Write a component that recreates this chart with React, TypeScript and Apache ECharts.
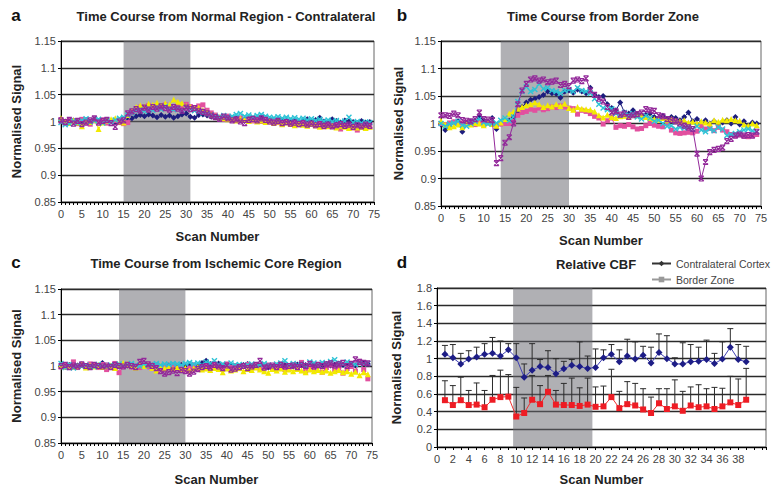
import React, { useEffect, useRef } from 'react';
import * as echarts from 'echarts';

// ---------- Panel a: Time Course from Normal Region - Contralateral (scan 0..74)
const aNavy = [
  1.004, 1.0, 0.998, 1.002, 0.999, 0.997, 1.003, 1.0, 1.004, 1.001, 0.999, 1.002, 1.0, 0.998, 1.001, 0.999,
  1.003, 1.006, 1.01, 1.012, 1.01, 1.013, 1.011, 1.008, 1.012, 1.009, 1.011, 1.007, 1.01, 1.013, 1.015, 1.009, 1.007, 1.012, 1.013, 1.011,
  1.009, 1.008, 1.006, 1.005, 1.007, 1.004, 1.006, 1.003, 1.005, 1.006, 1.004, 1.005, 1.007, 1.004, 1.003, 1.002, 1.004, 1.003, 1.001, 1.002,
  1.003, 1.0, 1.002, 1.004, 1.001, 1.003, 1.007, 1.0, 0.999, 1.004, 1.001, 0.998, 1.002, 1.0, 0.999, 0.997, 1.001, 0.998, 0.999,
];
const aPink = [
  1.003, 0.997, 1.002, 1.0, 0.996, 1.004, 0.998, 0.995, 1.001, 0.999, 1.003, 0.997, 1.0, 1.002, 0.998, 0.996,
  0.998, 1.018, 1.022, 1.027, 1.025, 1.03, 1.024, 1.029, 1.026, 1.031, 1.027, 1.023, 1.029, 1.025, 1.032, 1.028, 1.026, 1.029, 1.031, 1.021,
  1.016, 1.012, 1.008, 1.004, 1.01, 1.006, 1.003, 1.007, 1.002, 1.005, 1.001, 1.004, 1.0, 1.003, 0.999, 1.002, 0.998, 0.996, 1.0, 0.995,
  0.998, 0.994, 0.997, 0.993, 0.996, 0.992, 0.995, 0.99, 0.994, 0.991, 0.993, 0.986, 0.992, 0.99, 0.988, 0.984, 0.991, 0.989, 0.99,
];
const aYellow = [
  1.006, 1.0, 0.997, 1.002, 0.998, 0.991, 1.001, 0.999, 1.003, 0.986, 0.998, 1.002, 1.004, 1.006, 1.0, 0.998,
  1.012, 1.02, 1.027, 1.03, 1.028, 1.033, 1.031, 1.035, 1.03, 1.034, 1.031, 1.041, 1.037, 1.034, 1.029, 1.027, 1.024, 1.026, 1.021, 1.017,
  1.013, 1.01, 1.008, 1.006, 1.004, 1.007, 1.002, 1.005, 1.003, 1.001, 1.004, 1.0, 1.002, 0.999, 1.001, 0.997, 1.0, 0.995, 0.998, 0.996,
  0.993, 0.997, 0.994, 0.992, 0.996, 0.993, 0.99, 0.994, 0.991, 0.993, 0.989, 0.992, 0.99, 0.988, 0.991, 0.989, 0.99, 0.988, 0.99,
];
const aCyan = [
  0.998, 0.994, 0.996, 1.001, 0.997, 1.002, 1.005, 0.999, 1.001, 1.004, 0.997, 1.002, 0.999, 1.003, 1.006, 1.008,
  1.012, 1.016, 1.02, 1.022, 1.019, 1.024, 1.021, 1.026, 1.023, 1.028, 1.024, 1.022, 1.025, 1.021, 1.026, 1.023, 1.02, 1.018, 1.016, 1.014,
  1.012, 1.01, 1.009, 1.011, 1.008, 1.01, 1.013, 1.015, 1.01, 1.012, 1.009, 1.011, 1.013, 1.01, 1.008, 1.007, 1.009, 1.006, 1.008, 1.005,
  1.007, 1.004, 1.006, 1.003, 1.005, 1.002, 1.004, 1.001, 1.003, 1.0, 1.002, 0.999, 1.001, 1.008, 0.998, 1.0, 0.997, 0.999, 0.998,
];
const aPurple = [
  1.002, 0.999, 1.003, 0.996, 1.001, 0.995, 0.998, 1.002, 1.006, 0.998, 1.001, 1.003, 0.997, 0.99, 1.0, 1.002,
  1.015, 1.019, 1.023, 1.02, 1.026, 1.022, 1.027, 1.024, 1.028, 1.025, 1.022, 1.027, 1.024, 1.02, 1.026, 1.023, 1.025, 1.02, 1.018, 1.015,
  1.011, 1.008, 1.005, 1.009, 1.006, 1.002, 1.004, 1.0, 0.997, 1.003, 1.005, 1.002, 1.006, 1.003, 1.0, 0.998, 1.001, 0.997, 0.999, 0.996,
  0.998, 0.995, 0.997, 0.994, 0.996, 0.993, 0.995, 0.992, 0.994, 0.991, 0.993, 0.995, 0.992, 0.994, 0.99, 0.993, 0.991, 0.994, 0.992,
];

// ---------- Panel b: Time Course from Border Zone
const bNavy = [
  0.998, 0.988, 0.995, 1.002, 1.004, 0.985, 1.0, 1.003, 1.005, 1.012, 1.006, 1.003, 1.01, 0.99, 1.0, 1.001,
  1.005, 1.012, 1.022, 1.03, 1.038, 1.043, 1.045, 1.048, 1.052, 1.058, 1.055, 1.054, 1.047, 1.058, 1.06, 1.056, 1.062, 1.058, 1.055, 1.065,
  1.052, 1.048, 1.05, 1.035, 1.028, 1.024, 1.038, 1.02, 1.018, 1.024, 1.017, 1.014, 1.016, 1.018, 1.012, 1.01, 1.014, 1.008, 1.012, 1.01,
  1.006, 1.012, 1.02, 1.004, 1.008, 1.002, 1.006, 1.0, 1.004, 0.998, 1.002, 1.006, 1.0, 1.012, 0.998, 1.004, 0.996, 1.002, 1.0,
];
const bPink = [
  1.0, 0.998, 1.001, 1.003, 0.999, 1.001, 1.002, 1.0, 0.998, 1.002, 0.999, 1.001, 1.0, 0.998, 0.999, 1.0,
  1.0, 1.004, 1.015, 1.02, 1.022, 1.026, 1.024, 1.028, 1.025, 1.027, 1.03, 1.029, 1.032, 1.03, 1.028, 1.027, 1.017, 1.024, 1.022, 1.018,
  1.013, 1.01, 0.999, 1.005, 1.01, 0.993, 0.996, 0.995, 0.998, 0.994, 0.99, 0.991, 0.996, 1.0, 0.997, 0.995, 0.994, 1.0, 0.988, 0.983,
  0.982, 0.983, 0.984, 0.983, 0.986, 0.995, 0.99, 0.991, 0.987, 0.993, 0.988, 0.985, 0.98, 0.978, 0.98, 0.977, 0.976, 0.978, 0.98,
];
const bYellow = [
  1.005, 0.998, 0.993, 0.995, 0.998, 0.993, 1.0, 0.998, 1.001, 1.0, 0.997, 1.002, 0.999, 0.996, 1.002, 1.008,
  1.018, 1.022, 1.027, 1.03, 1.033, 1.035, 1.038, 1.035, 1.03, 1.033, 1.031, 1.035, 1.032, 1.036, 1.028, 1.025, 1.03, 1.027, 1.026, 1.025,
  1.022, 1.015, 1.011, 1.016, 1.012, 1.01, 1.013, 1.014, 1.012, 1.016, 1.015, 1.014, 1.012, 1.01, 1.008, 1.007, 1.01, 1.006, 1.008, 1.005,
  1.004, 1.006, 1.002, 1.003, 1.0, 1.004, 1.002, 1.0, 1.006, 1.003, 1.007, 1.006, 1.008, 1.006, 1.005, 0.998, 0.996, 1.0, 0.997,
];
const bCyan = [
  1.0, 0.995, 0.999, 1.001, 1.004, 0.997, 0.995, 1.0, 1.004, 1.008, 1.002, 0.999, 1.0, 1.001, 1.006, 1.01,
  1.005, 1.012, 1.04, 1.058, 1.067, 1.058, 1.062, 1.072, 1.063, 1.065, 1.06, 1.058, 1.055, 1.06, 1.062, 1.058, 1.065, 1.06, 1.058, 1.055,
  1.045, 1.035, 1.028, 1.025, 1.027, 1.018, 1.015, 1.02, 1.016, 1.018, 1.012, 1.008, 1.014, 1.01, 1.004, 1.006, 1.0, 0.995, 0.996, 0.99,
  0.993, 0.992, 0.994, 0.99, 0.995, 0.988, 0.985, 0.99, 0.987, 0.993, 0.99, 0.978, 0.98, 0.982, 0.985, 0.988, 0.99, 0.987, 0.985,
];
const bPurple = [
  1.015, 1.015, 1.014, 1.018, 1.015, 1.006, 1.005, 1.004, 1.008, 1.02, 1.008, 1.007, 1.006, 0.928, 0.937, 0.965,
  0.975, 1.0, 1.035, 1.06, 1.072, 1.08, 1.082, 1.078, 1.08, 1.075, 1.076, 1.078, 1.07, 1.072, 1.068, 1.078, 1.08, 1.077, 1.082, 1.06,
  1.052, 1.045, 1.04, 1.03, 1.02, 1.022, 1.016, 1.018, 1.012, 1.015, 1.017, 1.02, 1.026, 1.024, 1.023, 1.015, 1.013, 1.008, 1.006, 1.004,
  1.0, 0.996, 0.993, 0.99, 0.945, 0.9, 0.93, 0.948, 0.952, 0.954, 0.956, 0.968, 0.972, 0.978, 0.98, 0.978, 0.979, 0.978, 0.985,
];

// ---------- Panel c: Time Course from Ischemic Core Region
const cNavy = [
  1.0, 0.998, 1.002, 0.999, 1.001, 1.003, 1.0, 0.998, 1.002, 1.001, 1.006, 0.999, 1.0, 1.002, 0.999, 1.0,
  1.001, 0.999, 1.0, 1.002, 1.0, 0.999, 1.001, 1.0, 0.998, 1.0, 1.001, 0.999, 1.0, 1.002, 1.0, 1.003, 1.001, 1.0, 1.006, 1.01,
  1.004, 1.003, 1.005, 1.001, 0.999, 1.002, 1.0, 0.998, 1.002, 1.004, 1.0, 0.999, 1.001, 0.998, 0.997, 0.999, 1.001, 0.998, 1.002, 1.0,
  0.999, 1.003, 1.001, 1.002, 1.0, 1.003, 0.999, 1.002, 1.004, 1.001, 1.003, 1.005, 1.002, 1.0, 1.003, 1.001, 1.008, 1.006, 1.004,
];
const cPink = [
  0.998, 1.002, 1.0, 1.008, 0.997, 1.003, 0.999, 1.004, 1.001, 0.997, 1.003, 0.993, 1.0, 1.005, 0.987, 0.999,
  1.003, 0.998, 1.001, 0.997, 1.002, 0.999, 0.995, 1.003, 0.993, 1.0, 0.997, 1.002, 0.995, 0.999, 0.992, 0.996, 1.002, 0.994, 0.998, 1.0,
  0.995, 1.003, 0.998, 0.994, 1.004, 0.997, 1.001, 0.995, 0.999, 1.003, 0.996, 1.001, 0.994, 0.998, 1.002, 0.995, 0.999, 1.004, 0.993, 0.997,
  1.002, 0.996, 1.007, 0.99, 0.999, 0.994, 1.003, 0.988, 0.997, 1.002, 0.992, 0.998, 0.986, 0.995, 0.999, 0.99, 1.009, 0.993, 0.975,
];
const cYellow = [
  1.002, 0.999, 1.001, 0.998, 1.0, 1.003, 0.997, 1.001, 0.999, 1.002, 0.998, 1.0, 1.001, 0.996, 1.003, 1.006,
  1.004, 1.0, 0.997, 1.005, 1.0, 1.002, 0.996, 0.991, 1.0, 0.995, 0.998, 0.994, 0.997, 0.993, 0.996, 0.991, 0.995, 0.998, 0.993, 0.995,
  0.992, 0.996, 0.994, 0.988, 0.995, 0.991, 0.993, 0.996, 0.99, 0.994, 0.992, 0.997, 0.993, 0.99, 0.987, 0.994, 0.991, 0.995, 0.989, 0.993,
  0.99, 0.994, 0.991, 0.988, 0.993, 0.99, 0.992, 0.989, 0.991, 0.987, 0.99, 0.992, 0.988, 0.99, 0.985, 0.989, 0.982, 0.988, 0.984,
];
const cCyan = [
  1.005, 0.997, 1.003, 0.996, 1.001, 0.999, 1.002, 1.0, 0.998, 1.003, 1.0, 0.999, 1.002, 1.001, 1.004, 1.0,
  1.003, 1.005, 1.002, 1.0, 1.004, 1.001, 1.003, 1.005, 1.002, 1.004, 1.003, 1.005, 1.004, 1.002, 1.005, 1.007, 1.004, 1.006, 1.002, 1.008,
  1.005, 1.01, 1.003, 1.004, 1.001, 1.006, 1.002, 1.003, 1.0, 1.002, 1.004, 1.001, 1.003, 1.005, 1.002, 1.0, 1.004, 1.006, 1.01, 1.003,
  1.005, 1.002, 1.004, 1.0, 1.008, 1.006, 1.003, 1.007, 1.005, 1.009, 1.012, 1.006, 1.004, 1.008, 1.005, 1.003, 1.006, 1.004, 1.005,
];
const cPurple = [
  1.0, 1.002, 0.998, 1.001, 0.999, 1.003, 1.0, 0.998, 1.002, 1.0, 0.999, 1.001, 0.998, 1.002, 1.0, 0.999,
  1.002, 1.0, 0.998, 1.008, 1.01, 1.003, 1.0, 0.996, 0.99, 0.985, 0.988, 0.991, 0.986, 0.992, 0.99, 0.985, 0.989, 0.994, 0.998, 1.0,
  0.997, 1.002, 0.999, 0.996, 1.001, 0.993, 0.995, 0.998, 1.0, 0.996, 0.999, 1.002, 1.01, 0.997, 0.999, 1.001, 0.998, 1.002, 0.999, 1.0,
  1.001, 0.998, 1.002, 1.0, 1.004, 0.999, 1.002, 1.0, 1.003, 1.005, 1.001, 1.003, 1.006, 1.0, 1.004, 1.013, 1.008, 1.006, 1.005,
];

// ---------- Panel d: Relative CBF (scan 1..39), mean and upper error (SD)
const dCortex = [
  1.05, 1.01, 0.94, 0.995, 1.02, 1.05, 1.06, 1.03, 1.10, 1.01, 0.79, 0.87, 0.91, 0.90, 0.83, 0.885, 0.925, 0.91, 0.89, 0.90,
  1.01, 1.05, 0.965, 1.03, 0.995, 1.04, 0.95, 1.07, 1.00, 0.94, 0.94, 0.965, 0.97, 0.99, 0.945, 0.995, 1.13, 0.99, 0.965,
];
const dCortexSD = [
  0.10, 0.15, 0.12, 0.095, 0.11, 0.12, 0.18, 0.17, 0.07, 0.16, 0.15, 0.30, 0.08, 0.19, 0.17, 0.085, 0.065, 0.28, 0.14, 0.21,
  0.09, 0.11, 0.135, 0.19, 0.195, 0.10, 0.18, 0.21, 0.26, 0.07, 0.24, 0.195, 0.16, 0.22, 0.115, 0.195, 0.21, 0.17, 0.175,
];
const dBorder = [
  0.53, 0.475, 0.53, 0.475, 0.48, 0.45, 0.535, 0.565, 0.57, 0.345, 0.385, 0.535, 0.485, 0.625, 0.48, 0.475, 0.475, 0.465, 0.48, 0.455,
  0.46, 0.565, 0.44, 0.485, 0.47, 0.425, 0.385, 0.495, 0.43, 0.46, 0.41, 0.47, 0.45, 0.46, 0.43, 0.46, 0.505, 0.475, 0.535,
];
const dBorderSD = [
  0.22, 0.22, 0.26, 0.165, 0.245, 0.19, 0.275, 0.305, 0.25, 0.33, 0.17, 0.275, 0.21, 0.185, 0.16, 0.245, 0.305, 0.205, 0.30, 0.225,
  0.23, 0.315, 0.19, 0.255, 0.25, 0.235, 0.18, 0.165, 0.23, 0.30, 0.22, 0.21, 0.255, 0.20, 0.245, 0.205, 0.295, 0.295, 0.355,
];

// stimulus periods (shaded)
const shadeA = [15, 31];
const shadeB = [14, 30];
const shadeC = [14, 30];
const shadeD = [9.6, 19.6];

const titles = [
  'Time Course from Normal Region - Contralateral',
  'Time Course from Border Zone',
  'Time Course from Ischemic Core Region',
  'Relative CBF',
];
const letters = ['a', 'b', 'c', 'd'];
const legendNames = ['Contralateral Cortex', 'Border Zone'];

const FONT = "'Liberation Sans', Arial, sans-serif";
const SHADE = 'rgba(104,104,112,0.52)';

const STYLES = [
  { key: 'navy', symbol: 'diamond', size: 6, color: '#1d1d7e', stroke: 0 },
  { key: 'pink', symbol: 'rect', size: 5, color: '#e2509f', stroke: 0 },
  { key: 'yellow', symbol: 'triangle', size: 6, color: '#f2ea00', stroke: 0 },
  { key: 'cyan', symbol: 'path://M0,0L10,10M10,0L0,10', size: 5, color: '#2ec3d6', stroke: 1.4 },
  { key: 'purple', symbol: 'path://M0,0L10,0M0,0L10,10M10,0L0,10M0,10L10,10', size: 5, color: '#93299a', stroke: 1.2 },
];

const fmt = (v: number) => String(parseFloat(v.toFixed(2)));

export default function App() {
  const ref = useRef<HTMLDivElement>(null);
  useEffect(() => {
    if (!ref.current) return;
    const chart = echarts.init(ref.current, null, { renderer: 'svg' });

    const grids = [
      { left: 61, top: 41, width: 313, height: 161 },
      { left: 441, top: 41, width: 320, height: 165 },
      { left: 61, top: 289, width: 311, height: 158 },
      { left: 437, top: 288, width: 329, height: 164 },
    ].map((g) => ({ ...g, show: true, borderColor: '#666', borderWidth: 1, backgroundColor: 'transparent' }));

    const xNameGap = [28, 28, 30, 26];
    const xAxes = [0, 1, 2, 3].map((i) => ({
      type: 'value',
      gridIndex: i,
      min: 0,
      max: i === 3 ? 41.5 : 75,
      interval: i === 3 ? 2 : 5,
      name: 'Scan Number',
      nameLocation: 'middle',
      nameGap: xNameGap[i],
      nameTextStyle: { fontFamily: FONT, fontWeight: 'bold', fontSize: 13, color: '#222' },
      axisLine: { show: true, onZero: false, lineStyle: { color: '#000', width: 1 } },
      axisTick: { show: true, length: 3, lineStyle: { color: '#000' } },
      minorTick: { show: true, splitNumber: i === 3 ? 2 : 5, length: 3, lineStyle: { color: '#000' } },
      splitLine: { show: false },
      axisLabel: {
        fontFamily: FONT,
        fontSize: 11,
        color: '#444',
        margin: 6,
        showMaxLabel: i !== 3,
        formatter: (v: number) => (i === 3 && v > 38 ? '' : String(v)),
      },
    }));

    const yNameGap = [38, 36, 38, 34];
    const yAxes = [0, 1, 2, 3].map((i) => ({
      type: 'value',
      gridIndex: i,
      min: i === 3 ? 0 : 0.85,
      max: i === 3 ? 1.8 : 1.15,
      interval: i === 3 ? 0.2 : 0.05,
      name: 'Normalised Signal',
      nameLocation: 'middle',
      nameGap: yNameGap[i],
      nameTextStyle: { fontFamily: FONT, fontWeight: 'bold', fontSize: 13, color: '#222' },
      axisLine: { show: true, lineStyle: { color: '#000', width: 1 } },
      axisTick: { show: true, length: 3, lineStyle: { color: '#000' } },
      splitLine: { show: true, lineStyle: { color: '#2a2a2a', width: 1.3 } },
      axisLabel: { fontFamily: FONT, fontSize: 11, color: '#444', margin: 5, formatter: fmt },
    }));

    const panels = [
      [aNavy, aPink, aYellow, aCyan, aPurple],
      [bNavy, bPink, bYellow, bCyan, bPurple],
      [cNavy, cPink, cYellow, cCyan, cPurple],
    ];
    const shades = [shadeA, shadeB, shadeC, shadeD];

    const series: any[] = [];
    shades.forEach((s, i) => {
      series.push({
        type: 'line',
        name: 'stim-' + letters[i],
        xAxisIndex: i,
        yAxisIndex: i,
        data: [],
        silent: true,
        z: 1,
        markArea: {
          silent: true,
          itemStyle: { color: SHADE },
          data: [[{ xAxis: s[0] }, { xAxis: s[1] }]],
        },
      });
    });
    panels.forEach((arrs, p) => {
      arrs.forEach((arr, k) => {
        const st = STYLES[k];
        series.push({
          type: 'line',
          name: letters[p] + '-' + st.key,
          xAxisIndex: p,
          yAxisIndex: p,
          data: arr.map((v, i) => [i, v]),
          symbol: st.symbol,
          symbolSize: st.size,
          showAllSymbol: true,
          lineStyle: { color: st.color, width: 1 },
          itemStyle: { color: st.color, borderColor: st.color, borderWidth: st.stroke },
          z: 3 + k,
          silent: true,
        });
      });
    });

    const errRender = (params: any, api: any) => {
      const x = api.value(0);
      const y = api.value(1);
      const top = api.value(2);
      const p0 = api.coord([x, y]);
      const p1 = api.coord([x, top]);
      const st = { stroke: '#2b2b2b', lineWidth: 1 };
      return {
        type: 'group',
        children: [
          { type: 'line', shape: { x1: p0[0], y1: p0[1], x2: p1[0], y2: p1[1] }, style: st },
          { type: 'line', shape: { x1: p1[0] - 3, y1: p1[1], x2: p1[0] + 3, y2: p1[1] }, style: st },
        ],
      };
    };
    series.push({
      type: 'custom',
      name: 'err-cortex',
      xAxisIndex: 3,
      yAxisIndex: 3,
      renderItem: errRender,
      encode: { x: 0, y: 1 },
      data: dCortex.map((v, i) => [i + 1, v, v + dCortexSD[i]]),
      z: 2,
      silent: true,
    });
    series.push({
      type: 'custom',
      name: 'err-border',
      xAxisIndex: 3,
      yAxisIndex: 3,
      renderItem: errRender,
      encode: { x: 0, y: 1 },
      data: dBorder.map((v, i) => [i + 1, v, v + dBorderSD[i]]),
      z: 2,
      silent: true,
    });
    series.push({
      type: 'line',
      name: legendNames[0],
      xAxisIndex: 3,
      yAxisIndex: 3,
      data: dCortex.map((v, i) => [i + 1, v]),
      symbol: 'diamond',
      symbolSize: 7,
      lineStyle: { color: '#4141b4', width: 1 },
      itemStyle: { color: '#1d1d86' },
      z: 5,
      silent: true,
    });
    series.push({
      type: 'line',
      name: legendNames[1],
      xAxisIndex: 3,
      yAxisIndex: 3,
      data: dBorder.map((v, i) => [i + 1, v]),
      symbol: 'rect',
      symbolSize: 6,
      lineStyle: { color: '#f03030', width: 1 },
      itemStyle: { color: '#ee1c24' },
      z: 5,
      silent: true,
    });

    const titlePos = [
      [226, 16],
      [603, 16],
      [216, 263],
      [596, 264],
    ];
    const letterPos = [
      [16, 15],
      [402, 15],
      [16, 262],
      [402, 262],
    ];
    const graphic: any[] = [];
    titles.forEach((t, i) => {
      graphic.push({
        type: 'text',
        x: titlePos[i][0],
        y: titlePos[i][1],
        style: {
          text: t,
          font: `bold 13px ${FONT}`,
          fill: '#222',
          textAlign: 'center',
          textVerticalAlign: 'middle',
        },
      });
      graphic.push({
        type: 'text',
        x: letterPos[i][0],
        y: letterPos[i][1],
        style: {
          text: letters[i],
          font: `bold 17px ${FONT}`,
          fill: '#111',
          textAlign: 'center',
          textVerticalAlign: 'middle',
        },
      });
    });

    chart.setOption({
      animation: false,
      backgroundColor: '#fff',
      textStyle: { fontFamily: FONT },
      grid: grids,
      xAxis: xAxes,
      yAxis: yAxes,
      legend: {
        show: true,
        orient: 'vertical',
        left: 651,
        top: 258,
        padding: 0,
        itemWidth: 19,
        itemHeight: 7,
        itemGap: 5,
        textStyle: { fontFamily: FONT, fontSize: 10.5, color: '#444' },
        data: [
          { name: legendNames[0], itemStyle: { color: '#333' }, lineStyle: { color: '#333' } },
          { name: legendNames[1], itemStyle: { color: '#999' }, lineStyle: { color: '#999' } },
        ],
      },
      graphic,
      series,
    });
    return () => chart.dispose();
  }, []);
  return (
    <div
      ref={ref}
      style={{ position: 'absolute', left: 0, top: 0, width: 773, height: 487, background: '#fff' }}
    />
  );
}
